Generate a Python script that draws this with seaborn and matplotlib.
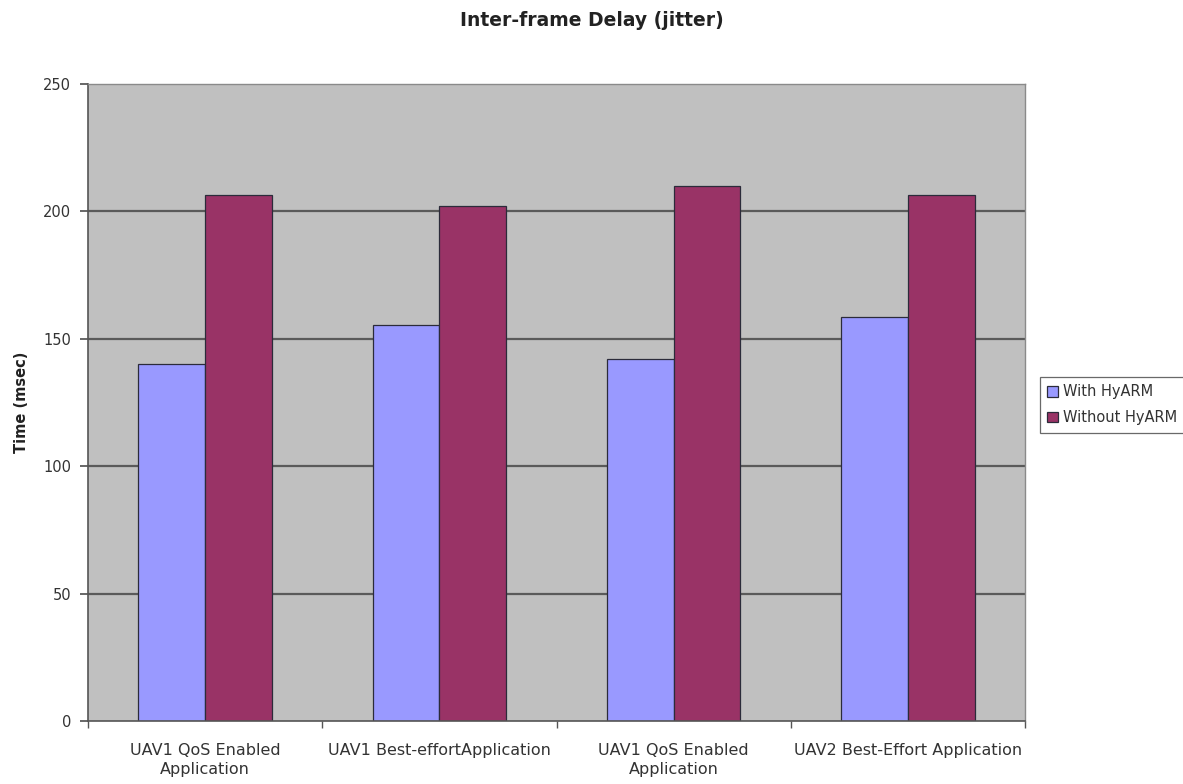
import matplotlib
matplotlib.use("Agg")
import matplotlib.pyplot as plt
import seaborn as sns
import pandas as pd

# Category labels (two groups share the same name, so an index keeps them apart)
categories = [
    "UAV1 QoS Enabled\nApplication",
    "UAV1 Best-effortApplication",
    "UAV1 QoS Enabled\nApplication",
    "UAV2 Best-Effort Application",
]
series_names = ["With HyARM", "Without HyARM"]
with_hyarm = [140, 155.5, 142, 158.5]
without_hyarm = [206.5, 202, 210, 206.5]
y_ticks = [0, 50, 100, 150, 200, 250]

rows = []
for i in range(len(categories)):
    rows.append({"idx": i, "series": series_names[0], "value": with_hyarm[i]})
    rows.append({"idx": i, "series": series_names[1], "value": without_hyarm[i]})
df = pd.DataFrame(rows)

sns.set_theme(style="white")
plt.rcParams["font.family"] = ["DejaVu Sans"]

fig = plt.figure(figsize=(11.83, 7.84), dpi=100)
ax = fig.add_axes([88 / 1183, 1 - 721 / 784, (1025 - 88) / 1183, (721 - 84) / 784])

sns.barplot(
    data=df, x="idx", y="value", hue="series", hue_order=series_names,
    palette=["#9999ff", "#993366"], width=0.57, saturation=1,
    edgecolor="#2b2b3a", linewidth=0.9, ax=ax, legend=True,
)

ax.set_facecolor("#c0c0c0")
ax.set_ylim(0, 250)
ax.set_xlim(-0.5, len(categories) - 0.5)
ax.set_yticks(y_ticks)
ax.set_yticklabels([str(t) for t in y_ticks], fontsize=10.5, color="#333333")
for t in y_ticks[1:-1]:
    ax.axhline(t, color="#5a5a5a", linewidth=1.6, zorder=0.5)

ax.set_xticks(range(len(categories)))
ax.set_xticklabels(categories, fontsize=11.5, color="#333333", linespacing=1.35)
ax.tick_params(axis="x", length=0, pad=16)
# small tick marks at the category boundaries
ax.set_xticks([i - 0.5 for i in range(len(categories) + 1)], minor=True)
ax.tick_params(axis="x", which="minor", length=5, color="#555555", direction="out", bottom=True)
ax.tick_params(axis="y", length=6, color="#555555", direction="out", left=True, pad=6)

for side in ["top", "right"]:
    ax.spines[side].set_color("#8a8a8a")
    ax.spines[side].set_linewidth(1.0)
for side in ["left", "bottom"]:
    ax.spines[side].set_color("#555555")
    ax.spines[side].set_linewidth(1.2)

ax.set_xlabel("")
ax.set_ylabel("Time (msec)", fontsize=10.5, fontweight="bold", color="#222222")
ax.yaxis.set_label_coords(-0.063, 0.5)
fig.text(0.5, 1 - 21 / 784, "Inter-frame Delay (jitter)", fontsize=13.5,
         fontweight="bold", ha="center", va="center", color="#222222")

handles, labels = ax.get_legend_handles_labels()
ax.legend_.remove()
leg = fig.legend(
    handles, labels, loc="upper left", bbox_to_anchor=(1040 / 1183, 1 - 377 / 784),
    frameon=True, fancybox=False, edgecolor="#444444", facecolor="white",
    fontsize=10.5, handlelength=0.75, handleheight=0.75, handletextpad=0.35,
    borderpad=0.5, labelspacing=0.75, borderaxespad=0,
)
leg.get_frame().set_linewidth(0.9)
for t in leg.get_texts():
    t.set_color("#333333")

fig.savefig("out.png", dpi=100, facecolor="white")
